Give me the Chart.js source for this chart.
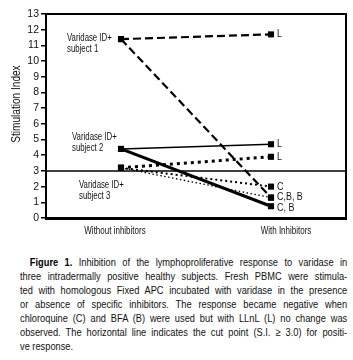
<!DOCTYPE html>
<html>
<head>
<meta charset="utf-8">
<script src="https://cdn.jsdelivr.net/npm/chart.js@4.4.1/dist/chart.umd.min.js"></script>
<style>
  body { margin: 0; background: #fff; width: 353px; height: 360px; overflow: hidden; position: relative; }
  #wrap { position: absolute; left: 0; top: 0; width: 353px; height: 250px; }
  #caption {
    position: absolute; left: 20px; top: 255px; width: 399px;
    transform: scaleX(0.82); transform-origin: 0 0;
    font-family: "Liberation Sans", Arial, sans-serif;
    font-size: 11.3px; line-height: 14px; color: #111;
  }
  #caption span { display: block; text-align: justify; text-align-last: justify; white-space: nowrap; }
  #caption span:last-child { text-align-last: left; }
  #caption span.first { padding-left: 12px; }
  #caption b { color: #000; }
</style>
</head>
<body>
<div id="wrap"><canvas id="chart" width="353" height="250"></canvas></div>
<div id="caption"><span class="first"><b>Figure 1.</b> Inhibition of the lymphoproliferative response to varidase in</span><span>three intradermally positive healthy subjects. Fresh PBMC were stimula-</span><span>ted with homologous Fixed APC incubated with varidase in the presence</span><span>or absence of specific inhibitors. The response became negative when</span><span>chloroquine (C) and BFA (B) were used but with LLnL (L) no change was</span><span>observed. The horizontal line indicates the cut point (S.I. &ge; 3.0) for positi-</span><span>ve response.</span></div>
<script>
const groups = ["Without inhibitors", "With Inhibitors"];
const groupX = [1, 3];

// stimulation index, [without, with inhibitor]
const s1L = [11.4, 11.7];
const s1CB = [11.4, 1.3];
const s2L = [4.4, 4.7];
const s2CB = [4.4, 0.75];
const s3L = [3.2, 3.9];
const s3C = [3.2, 2.0];
const s3B = [3.2, 1.3];
const cutPoint = 3.0;

const subjectLabels = ["subject 1", "subject 2", "subject 3"];
const endLabels = ["L", "L", "L", "C", "C,B, B", "C, B"];
const endValues = [11.7, 4.7, 3.9, 2.0, 1.3, 0.6];

const FONT = '"Liberation Sans", Arial, sans-serif';

const pts = (arr) => arr.map((v, i) => ({ x: groupX[i], y: v }));

const series = (data, width, dash) => ({
  data: pts(data),
  borderColor: "#000",
  backgroundColor: "#000",
  borderWidth: width,
  borderDash: dash,
  pointStyle: "rect",
  pointRadius: 4.3,
  pointBorderWidth: 0,
  tension: 0,
});

// text squeezed sideways, the original uses a narrow face
const narrow = (ctx, text, x, y, align, sx) => {
  ctx.save();
  ctx.translate(x, y);
  ctx.scale(sx, 1);
  ctx.textAlign = align;
  ctx.fillText(text, 0, 0);
  ctx.restore();
};

const annotations = {
  id: "annotations",
  afterDraw(chart) {
    const ctx = chart.ctx;
    const xs = chart.scales.x;
    const ys = chart.scales.y;
    const a = chart.chartArea;
    ctx.save();
    ctx.strokeStyle = "#000";
    ctx.lineWidth = 2;
    ctx.beginPath();
    ctx.moveTo(a.left, a.top);
    ctx.lineTo(a.right, a.top);
    ctx.lineTo(a.right, a.bottom);
    ctx.stroke();

    // y axis title
    ctx.fillStyle = "#111";
    ctx.font = "12px " + FONT;
    ctx.textBaseline = "middle";
    ctx.translate(17, 104);
    ctx.rotate(-Math.PI / 2);
    ctx.scale(0.84, 1);
    ctx.textAlign = "center";
    ctx.fillText("Stimulation Index", 0, 0);
    ctx.restore();

    ctx.save();
    ctx.fillStyle = "#111";
    ctx.textBaseline = "middle";
    const x0 = xs.getPixelForValue(groupX[0]);
    const x1 = xs.getPixelForValue(groupX[1]);

    // group labels under the axis
    ctx.font = "10px " + FONT;
    narrow(ctx, groups[0], x0 - 6, a.bottom + 13, "center", 0.8);
    narrow(ctx, groups[1], x1 + 15, a.bottom + 13, "center", 0.8);

    // subject labels
    ctx.font = "10px " + FONT;
    const sub = [
      [x0 - 54, ys.getPixelForValue(s1L[0]) - 1],
      [x0 - 49, ys.getPixelForValue(s2L[0]) - 12],
      [x0 - 42, ys.getPixelForValue(s3L[0]) + 17],
    ];
    sub.forEach((p, i) => {
      narrow(ctx, "Varidase ID+", p[0], p[1], "left", 0.78);
      narrow(ctx, subjectLabels[i], p[0], p[1] + 11, "left", 0.78);
    });

    // inhibitor labels
    ctx.font = "10.5px " + FONT;
    endLabels.forEach((t, i) => {
      narrow(ctx, t, x1 + 6, ys.getPixelForValue(endValues[i]), "left", 0.85);
    });
    ctx.restore();
  },
};

new Chart(document.getElementById("chart"), {
  type: "line",
  data: {
    datasets: [
      {
        data: [{ x: 0, y: cutPoint }, { x: 4, y: cutPoint }],
        borderColor: "#000",
        borderWidth: 1.5,
        pointRadius: 0,
      },
      series(s1L, 2.2, [8, 4]),
      series(s1CB, 2.2, [8, 4]),
      series(s2L, 1.5, []),
      series(s2CB, 3, []),
      series(s3L, 3, [3, 4]),
      series(s3C, 2, [2, 3]),
      series(s3B, 1.3, [1.5, 2.5]),
    ],
  },
  options: {
    responsive: false,
    animation: false,
    layout: { padding: { top: 14, right: 7, left: 0, bottom: 0 } },
    plugins: { legend: { display: false }, tooltip: { enabled: false } },
    scales: {
      x: {
        type: "linear",
        min: 0,
        max: 4,
        afterBuildTicks: (s) => { s.ticks = groupX.map((v) => ({ value: v })); },
        afterFit: (s) => { s.height = 32; },
        ticks: { display: false },
        grid: { display: false, drawTicks: false },
        border: { color: "#000", width: 3 },
      },
      y: {
        min: 0,
        max: 13,
        afterFit: (s) => { s.width = 46; },
        ticks: {
          stepSize: 1,
          font: { family: FONT, size: 10.5 },
          color: "#111",
          padding: 2,
        },
        grid: { drawOnChartArea: false, tickLength: 5, color: "#000", lineWidth: 1.5 },
        border: { color: "#000", width: 2 },
      },
    },
  },
  plugins: [annotations],
});
</script>
</body>
</html>
